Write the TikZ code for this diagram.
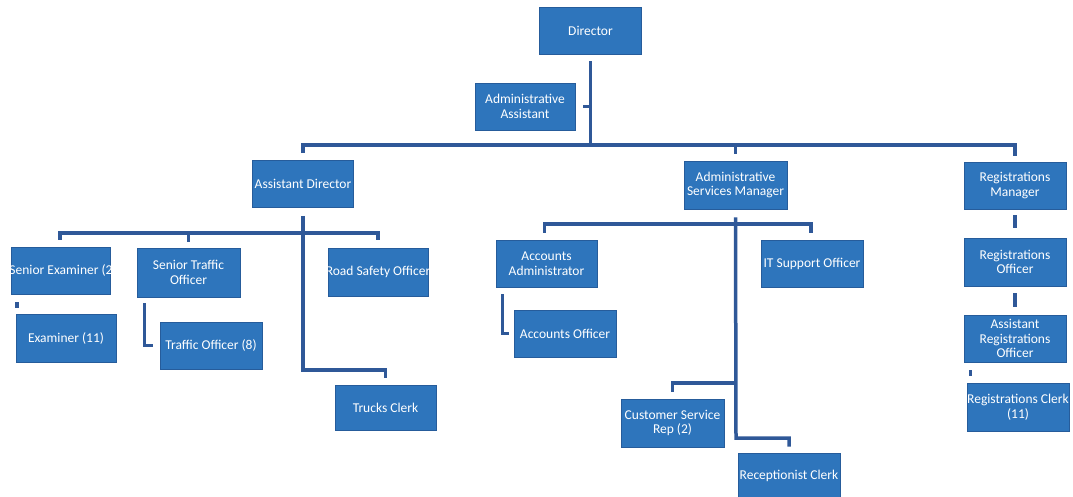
\documentclass[tikz,border=0pt]{standalone}
\usepackage{fontspec}
\setmainfont{Carlito}
\definecolor{boxfill}{RGB}{46,117,188}
\definecolor{boxline}{RGB}{38,92,155}
\definecolor{linecol}{RGB}{47,88,152}
\tikzset{
  orgbox/.style={rectangle, fill=boxfill, draw=boxline, line width=0.8pt, text=white,
    align=center, inner sep=1pt, minimum width=101pt, minimum height=47pt,
    font=\fontsize{13.5}{14.5}\selectfont},
  conn/.style={draw=linecol, line width=3.5pt}
}
\begin{document}
\begin{tikzpicture}[x=1pt,y=-1pt]
\useasboundingbox (0,0) rectangle (1073,497);
% boxes
\node[orgbox, minimum width=102pt] (dir) at (590.5,30.5) {Director};
\node[orgbox, minimum width=100pt] (aa) at (525,106.5) {Administrative\\Assistant};
\node[orgbox] (ad) at (303,184) {Assistant Director};
\node[orgbox, minimum width=103pt, minimum height=48pt] (asm) at (735.5,185) {Administrative\\Services Manager};
\node[orgbox, minimum width=102pt] (rm) at (1015,185.5) {Registrations\\Manager};
\node[orgbox, minimum width=99pt] (se) at (61,270.5) {\makebox[0pt]{Senior Examiner (2}};
\node[orgbox, minimum width=103pt, minimum height=49pt] (sto) at (188.5,272.5) {Senior Traffic\\Officer};
\node[orgbox, minimum width=100pt, minimum height=48pt] (rso) at (378,272) {\makebox[0pt]{Road Safety Officer}};
\node[orgbox, minimum height=45pt] (tc) at (385.5,407.5) {Trucks Clerk};
\node[orgbox, minimum width=100pt, minimum height=48pt] (ex) at (66,338) {Examiner (11)};
\node[orgbox, minimum width=102pt] (to) at (211,345.5) {Traffic Officer (8)};
\node[orgbox] (acad) at (546.5,263.5) {Accounts\\Administrator};
\node[orgbox, minimum width=102pt] (it) at (812,263.5) {IT Support Officer};
\node[orgbox, minimum width=102pt] (ao) at (565,333.5) {Accounts Officer};
\node[orgbox, minimum width=103pt, minimum height=48pt] (csr) at (672.5,423) {Customer Service\\Rep (2)};
\node[orgbox, minimum width=102pt, minimum height=46pt] (rc) at (789,476) {\makebox[0pt]{Receptionist Clerk}};
\node[orgbox, minimum width=102pt, minimum height=48pt] (ro) at (1015,262) {Registrations\\Officer};
\node[orgbox, minimum width=102pt] (aro) at (1015,338.5) {Assistant\\Registrations\\Officer};
\node[orgbox, minimum width=102pt, minimum height=48pt] (rcl) at (1018,407) {\makebox[0pt]{Registrations Clerk}\\(11)};
% bus and elbow coordinates
\coordinate (bus0) at (590,145);
\coordinate (busad) at (303,233);
\coordinate (busasm) at (736,224);
\coordinate (adk) at (303,370);
\coordinate (asmk) at (736,438);
\coordinate (csrk) at (736,383);
% top level
\draw[conn] ([yshift=-7pt]dir.south) -- (dir.south |- bus0);
\draw[conn] ([xshift=8pt]aa.east) -- (aa.east -| dir.south);
\draw[conn] ([yshift=7pt]ad.north) -- (ad.north |- bus0) -- (rm.north |- bus0) -- ([yshift=6pt]rm.north);
\draw[conn] (asm.north |- bus0) -- ([yshift=7pt]asm.north);
% assistant director branch
\draw[conn] ([yshift=-8pt]ad.south) -- (adk) -| ([yshift=7pt]tc.north);
\draw[conn] ([xshift=-1pt,yshift=7pt]se.north) -- ([xshift=-1pt]se.north |- busad) -- (rso.north |- busad) -- ([yshift=8pt]rso.north);
\draw[conn] ([yshift=6pt]sto.north) -- (sto.north |- busad);
\draw[conn] ([xshift=6pt,yshift=-8pt]se.south west) -- ([xshift=6pt,yshift=-14pt]se.south west);
\draw[conn] ([xshift=8pt,yshift=-6pt]sto.south west) |- ([xshift=-7pt]to.west);
% admin services branch
\draw[conn] ([yshift=-8pt]asm.south) -- (asmk) -| ([yshift=6pt]rc.north);
\draw[conn] ([xshift=-2pt,yshift=7pt]acad.north) -- ([xshift=-2pt]acad.north |- busasm) -- ([xshift=-1pt]it.north |- busasm) -- ([xshift=-1pt,yshift=7pt]it.north);
\draw[conn] (csrk) -| ([yshift=7pt]csr.north);
\draw[conn] ([xshift=7pt,yshift=-7pt]acad.south west) |- ([xshift=-5pt]ao.west);
% registrations chain
\draw[conn] ([yshift=-6pt]rm.south) -- ([yshift=10pt]ro.north);
\draw[conn] ([yshift=-7pt]ro.south) -- ([yshift=8pt]aro.north);
\draw[conn] ([xshift=7pt,yshift=-8pt]aro.south west) -- ([xshift=7pt,yshift=-14pt]aro.south west);
\end{tikzpicture}
\end{document}
